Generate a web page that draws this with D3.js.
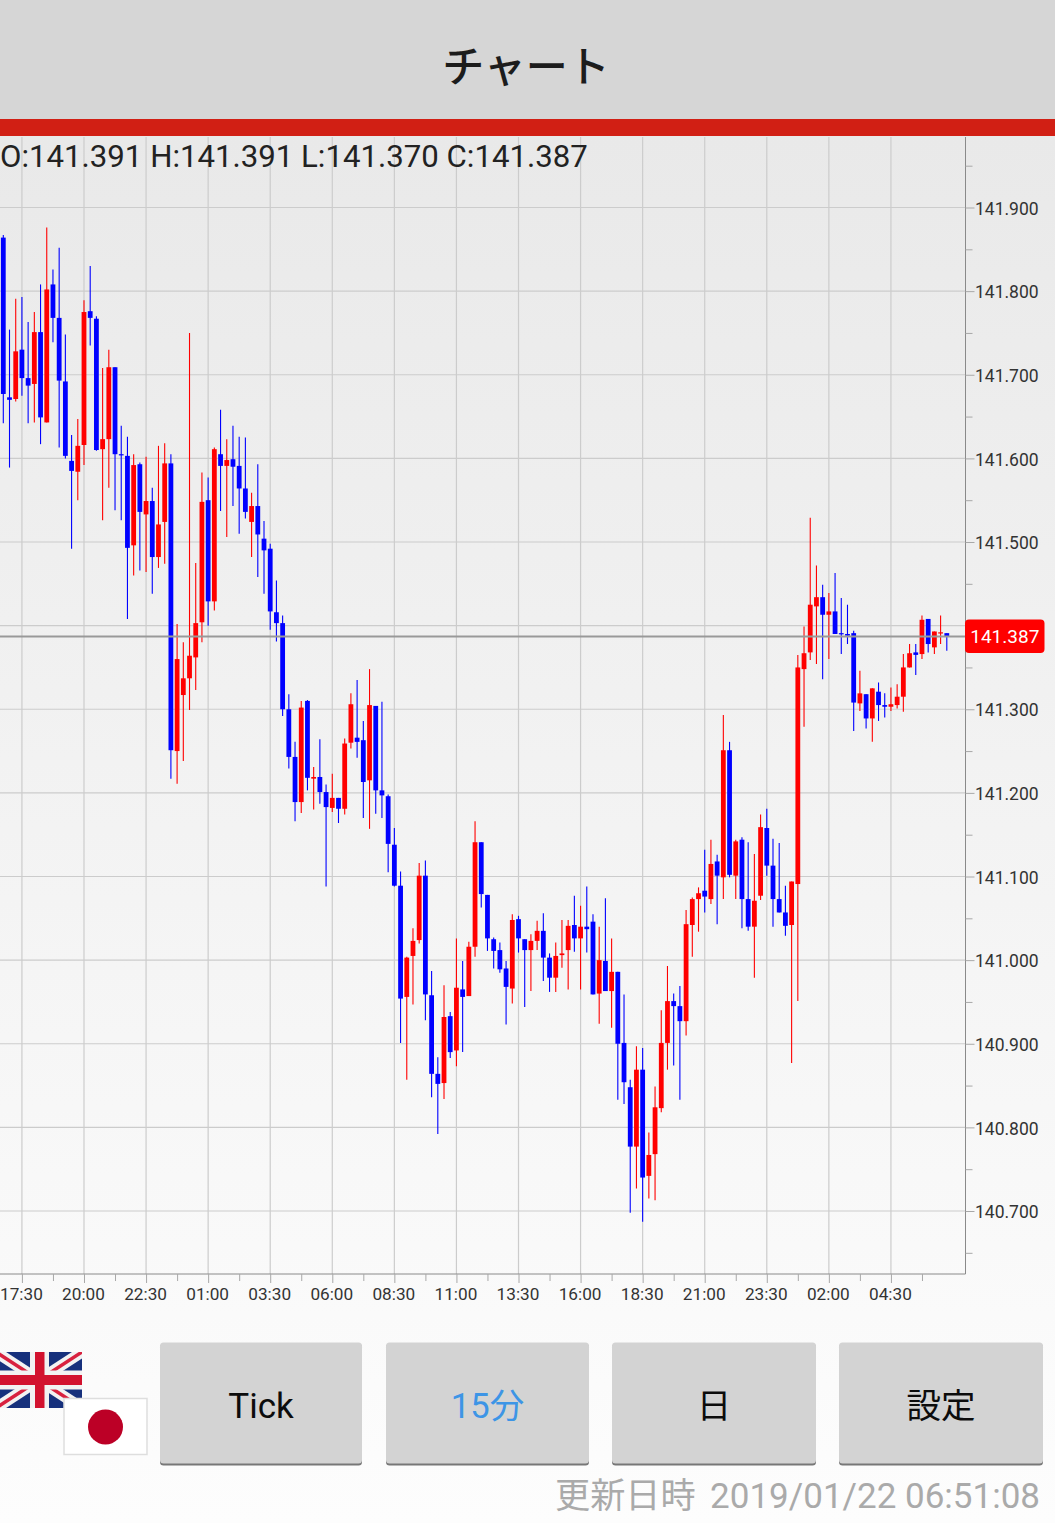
<!DOCTYPE html>
<html>
<head>
<meta charset="utf-8">
<script src="https://cdn.jsdelivr.net/npm/d3@7"></script>
<style>
    html, body { margin: 0; padding: 0; background: #fff; overflow: hidden; }
    svg { display: block; }
    text { font-family: Roboto, "Noto Sans CJK JP", sans-serif; }
    .cjk { font-family: "Noto Sans CJK JP", sans-serif; }
</style>
</head>
<body>
<div id="chart"></div>
<script>
// 15 minute candles
const opens = [
    141.864,141.673,141.671,141.730,141.696,141.689,141.751,141.643,141.808,141.768,
    141.692,141.597,141.584,141.616,141.776,141.767,141.611,141.623,141.709,141.605,
    141.603,141.496,141.593,141.533,141.549,141.482,141.524,141.594,141.250,141.317,
    141.337,141.362,141.404,141.550,141.429,141.605,141.591,141.599,141.591,141.564,
    141.524,141.543,141.504,141.492,141.416,141.403,141.300,141.243,141.189,141.310,
    141.217,141.219,141.201,141.182,141.194,141.181,141.260,141.266,141.263,141.215,
    141.304,141.203,141.196,141.138,141.089,140.956,141.005,141.024,141.101,140.958,
    140.864,140.853,140.933,140.892,140.965,140.957,141.016,141.141,141.078,141.025,
    141.012,140.990,140.966,141.049,141.025,141.012,141.023,141.035,141.003,140.979,
    141.006,141.012,141.042,141.026,141.040,141.046,140.960,140.999,140.963,140.986,
    140.901,140.848,140.777,140.869,140.742,140.768,140.823,140.901,140.951,140.945,
    140.927,141.042,141.073,141.083,141.073,141.118,141.099,141.251,141.101,141.144,
    141.073,141.040,141.077,141.158,141.113,141.073,141.057,141.042,141.091,141.348,
    141.368,141.423,141.434,141.413,141.417,141.391,141.390,141.391,141.307,141.318,
    141.289,141.321,141.305,141.303,141.305,141.315,141.350,141.368,141.366,141.408,
    141.374,141.391,141.391
];
const closes = [
    141.677,141.670,141.728,141.696,141.687,141.751,141.649,141.802,141.768,141.693,
    141.603,141.585,141.615,141.775,141.768,141.610,141.623,141.709,141.605,141.604,
    141.493,141.592,141.536,141.549,141.482,141.521,141.594,141.251,141.360,141.337,
    141.364,141.403,141.548,141.429,141.611,141.591,141.598,141.590,141.564,141.536,
    141.543,141.509,141.490,141.417,141.403,141.300,141.243,141.189,141.302,141.218,
    141.219,141.201,141.183,141.194,141.181,141.259,141.306,141.261,141.213,141.305,
    141.203,141.197,141.139,141.089,140.954,141.003,141.023,141.101,140.959,140.864,
    140.852,140.932,140.890,140.967,140.956,141.016,141.141,141.079,141.026,141.011,
    140.989,140.968,141.048,141.026,141.012,141.023,141.035,141.003,140.979,141.005,
    141.008,141.041,141.026,141.040,141.037,140.959,141.000,140.963,140.986,140.900,
    140.854,140.777,140.869,140.740,140.767,140.824,140.901,140.951,140.945,140.927,
    141.043,141.073,141.080,141.076,141.115,141.101,141.251,141.102,141.142,141.073,
    141.040,141.071,141.159,141.113,141.073,141.057,141.041,141.094,141.350,141.367,
    141.425,141.434,141.413,141.417,141.390,141.390,141.388,141.308,141.319,141.289,
    141.325,141.305,141.303,141.306,141.315,141.350,141.367,141.365,141.407,141.378,
    141.393,141.392,141.387
];
const highs = [
    141.867,141.754,141.791,141.793,141.763,141.775,141.808,141.876,141.826,141.852,
    141.748,141.628,141.647,141.789,141.830,141.770,141.708,141.730,141.709,141.639,
    141.626,141.605,141.595,141.602,141.565,141.615,141.618,141.605,141.402,141.380,
    141.750,141.475,141.583,141.577,141.613,141.658,141.623,141.639,141.626,141.625,
    141.559,141.593,141.525,141.498,141.454,141.412,141.318,141.261,141.310,141.311,
    141.231,141.264,141.210,141.223,141.194,141.265,141.319,141.335,141.286,141.348,
    141.304,141.309,141.198,141.158,141.106,141.004,141.038,141.116,141.119,140.987,
    140.884,140.970,140.938,141.026,140.999,141.022,141.166,141.141,141.078,141.027,
    141.021,140.999,141.055,141.053,141.025,141.031,141.047,141.056,141.008,141.021,
    141.048,141.048,141.077,141.065,141.088,141.055,141.040,141.074,141.026,140.986,
    140.959,140.857,140.897,140.895,140.794,140.849,140.940,140.993,140.960,140.969,
    141.060,141.075,141.087,141.132,141.144,141.126,141.293,141.261,141.144,141.147,
    141.141,141.127,141.174,141.181,141.145,141.140,141.089,141.094,141.365,141.399,
    141.529,141.472,141.449,141.439,141.463,141.433,141.425,141.394,141.346,141.318,
    141.325,141.332,141.319,141.326,141.330,141.366,141.378,141.378,141.412,141.408,
    141.393,141.412,141.391
];
const lows = [
    141.642,141.589,141.668,141.675,141.642,141.643,141.617,141.643,141.739,141.613,
    141.600,141.492,141.550,141.592,141.735,141.609,141.526,141.565,141.538,141.526,
    141.408,141.460,141.466,141.464,141.438,141.469,141.474,141.217,141.211,141.238,
    141.299,141.323,141.380,141.400,141.418,141.537,141.506,141.543,141.510,141.528,
    141.482,141.458,141.438,141.395,141.381,141.292,141.229,141.166,141.176,141.203,
    141.180,141.187,141.088,141.177,141.164,141.174,141.253,141.242,141.170,141.157,
    141.175,141.170,141.105,141.088,140.901,140.857,140.947,141.020,140.928,140.836,
    140.792,140.834,140.883,140.873,140.890,140.957,141.004,141.063,141.011,140.990,
    140.985,140.923,140.948,141.009,140.944,140.963,141.012,140.975,140.962,140.962,
    140.991,140.965,141.010,140.965,141.009,140.959,140.924,140.963,140.919,140.833,
    140.828,140.698,140.727,140.687,140.715,140.713,140.818,140.869,140.874,140.833,
    140.910,141.004,141.034,141.057,141.067,141.043,141.073,141.099,141.073,141.038,
    141.035,140.979,141.072,141.101,141.040,141.057,141.029,140.877,140.951,141.279,
    141.359,141.354,141.336,141.360,141.390,141.366,141.378,141.274,141.298,141.277,
    141.261,141.286,141.290,141.298,141.301,141.297,141.350,141.341,141.360,141.368,
    141.366,141.378,141.370
];

// candle index -> label on the time axis
const timeTicks = [3, 13, 23, 33, 43, 53, 63, 73, 83, 93, 103, 113, 123, 133, 143];
const timeLabels = ["17:30","20:00","22:30","01:00","03:30","06:00","08:30","11:00","13:30","16:00","18:30","21:00","23:30","02:00","04:30"];
const timeMinor = [8, 18, 28, 38, 48, 58, 68, 78, 88, 98, 108, 118, 128, 138, 148];

const priceTicks = [141.9, 141.8, 141.7, 141.6, 141.5, 141.4, 141.3, 141.2, 141.1, 141.0, 140.9, 140.8, 140.7];
const priceMinor = [141.95, 141.85, 141.75, 141.65, 141.55, 141.45, 141.35, 141.25, 141.15, 141.05, 140.95, 140.85, 140.75, 140.65];

const buttons = ["Tick", "15分", "日", "設定"];
const buttonLeft = [160, 386, 612, 839];
const buttonRight = [362, 589, 816, 1043];

const W = 1055, H = 1523;
const plot = { left: 0, right: 965.5, top: 137, bottom: 1274 };

const svg = d3.select("#chart").append("svg")
    .attr("width", W)
    .attr("height", H);

const defs = svg.append("defs");
const grad = defs.append("linearGradient")
    .attr("id", "bg")
    .attr("x1", 0).attr("x2", 0).attr("y1", 0).attr("y2", 1);
grad.append("stop").attr("offset", "0%").attr("stop-color", "#e9e9e9");
grad.append("stop").attr("offset", "100%").attr("stop-color", "#fdfdfd");

svg.append("rect")
    .attr("y", 136).attr("width", W).attr("height", H - 136)
    .attr("fill", "url(#bg)");

// header
svg.append("rect").attr("width", W).attr("height", 119).attr("fill", "#d6d6d6");
svg.append("rect").attr("y", 119).attr("width", W).attr("height", 17).attr("fill", "#d11f14");
svg.append("text")
    .attr("class", "cjk")
    .attr("x", 526).attr("y", 82)
    .attr("text-anchor", "middle")
    .style("font-size", "42px")
    .style("font-weight", "500")
    .style("fill", "#1c1c1c")
    .text("チャート");

const x = d3.scaleLinear().domain([0, 152]).range([3.3, 946.8]);
const y = d3.scaleLinear().domain([140.7, 141.9]).range([1211, 207.5]);

// grid
svg.append("g").selectAll("line")
    .data(priceTicks)
    .enter().append("line")
    .attr("x1", plot.left).attr("x2", plot.right)
    .attr("y1", d => y(d)).attr("y2", d => y(d))
    .attr("stroke", "#cccccc").attr("stroke-width", 1.2);
svg.append("g").selectAll("line")
    .data(timeTicks)
    .enter().append("line")
    .attr("x1", d => x(d)).attr("x2", d => x(d))
    .attr("y1", plot.top).attr("y2", plot.bottom)
    .attr("stroke", "#cccccc").attr("stroke-width", 1.2);

// candles
const candles = d3.range(opens.length).map(i => ({
    i, open: opens[i], close: closes[i], high: highs[i], low: lows[i]
}));
const colour = d => d.close > d.open ? "#ff0000" : "#0000ff";

const candle = svg.append("g").selectAll("g")
    .data(candles)
    .enter().append("g");
candle.append("line")
    .attr("x1", d => x(d.i)).attr("x2", d => x(d.i))
    .attr("y1", d => y(d.high)).attr("y2", d => y(d.low))
    .attr("stroke", colour).attr("stroke-width", 1.1);
candle.append("rect")
    .attr("x", d => x(d.i) - 2.4)
    .attr("width", 4.8)
    .attr("y", d => y(Math.max(d.open, d.close)))
    .attr("height", d => Math.max(1.2, Math.abs(y(d.open) - y(d.close))))
    .attr("fill", colour);

// current price line
const last = candles[candles.length - 1];
svg.append("line")
    .attr("x1", 0).attr("x2", plot.right)
    .attr("y1", y(last.close)).attr("y2", y(last.close))
    .attr("stroke", "#999").attr("stroke-width", 2);

// price axis
const yAxis = svg.append("g")
    .attr("transform", `translate(${plot.right},0)`)
    .call(d3.axisRight(y).tickValues(priceTicks).tickSize(9).tickPadding(0.5)
        .tickFormat(d => Math.abs(d - 141.4) < 1e-6 ? "" : d3.format(".3f")(d)));
yAxis.select(".domain").attr("d", `M0,${plot.top}V${plot.bottom}`).attr("stroke", "#8a8a8a");
yAxis.selectAll(".tick line").attr("stroke", "#a8a8a8");
yAxis.selectAll("text")
    .attr("dy", "0.38em")
    .style("font-family", "Roboto")
    .style("font-size", "17.5px")
    .style("fill", "#333");
svg.append("g")
    .attr("transform", `translate(${plot.right},0)`)
    .call(d3.axisRight(y).tickValues(priceMinor).tickSize(7).tickFormat(""))
    .call(g => g.select(".domain").remove())
    .selectAll(".tick line").attr("stroke", "#a8a8a8");

// time axis
const xAxis = svg.append("g")
    .attr("transform", `translate(0,${plot.bottom})`)
    .call(d3.axisBottom(x).tickValues(timeTicks).tickSize(9).tickPadding(5)
        .tickFormat((d, i) => timeLabels[i]));
xAxis.select(".domain").attr("d", `M0,0H${plot.right}`).attr("stroke", "#8a8a8a");
xAxis.selectAll(".tick line").attr("stroke", "#a8a8a8");
xAxis.selectAll("text")
    .attr("dx", -1)
    .style("font-family", "Roboto")
    .style("font-size", "17.2px")
    .style("fill", "#333");
svg.append("g")
    .attr("transform", `translate(0,${plot.bottom})`)
    .call(d3.axisBottom(x).tickValues(timeMinor).tickSize(7).tickFormat(""))
    .call(g => g.select(".domain").remove())
    .selectAll(".tick line").attr("stroke", "#a8a8a8");

// current price tag
svg.append("rect")
    .attr("x", 965).attr("y", y(last.close) - 17)
    .attr("width", 79.5).attr("height", 33.5)
    .attr("rx", 4)
    .attr("fill", "#ff0000");
svg.append("text")
    .attr("x", 1004.8).attr("y", y(last.close) + 6.5)
    .attr("text-anchor", "middle")
    .style("font-size", "19px")
    .style("fill", "#fff")
    .text(last.close.toFixed(3));

// OHLC readout
svg.append("text")
    .attr("x", 0).attr("y", 166.5)
    .style("font-size", "31.2px")
    .style("fill", "#222")
    .text(`O:${last.open.toFixed(3)} H:${last.high.toFixed(3)} L:${last.low.toFixed(3)} C:${last.close.toFixed(3)}`);

// flags
const uk = svg.append("g");
uk.append("clipPath").attr("id", "ukclip")
    .append("rect").attr("x", 0).attr("y", 1352).attr("width", 82).attr("height", 56);
const ukInner = uk.append("g").attr("clip-path", "url(#ukclip)");
ukInner.append("rect").attr("x", -4).attr("y", 1352).attr("width", 86).attr("height", 56).attr("fill", "#16307c");
[[-4, 1352, 82, 1408], [-4, 1408, 82, 1352]].forEach(c => {
    ukInner.append("line")
        .attr("x1", c[0]).attr("y1", c[1]).attr("x2", c[2]).attr("y2", c[3])
        .attr("stroke", "#f2f2f2").attr("stroke-width", 11);
    ukInner.append("line")
        .attr("x1", c[0]).attr("y1", c[1]).attr("x2", c[2]).attr("y2", c[3])
        .attr("stroke", "#d8213f").attr("stroke-width", 3.5);
});
ukInner.append("rect").attr("x", 30).attr("y", 1352).attr("width", 19).attr("height", 56).attr("fill", "#f2f2f2");
ukInner.append("rect").attr("x", -4).attr("y", 1370.5).attr("width", 86).attr("height", 19).attr("fill", "#f2f2f2");
ukInner.append("rect").attr("x", 35).attr("y", 1352).attr("width", 9.5).attr("height", 56).attr("fill", "#d2122e");
ukInner.append("rect").attr("x", -4).attr("y", 1375).attr("width", 86).attr("height", 10).attr("fill", "#d2122e");

svg.append("rect")
    .attr("x", 64).attr("y", 1398.5).attr("width", 83).attr("height", 56)
    .attr("fill", "#fff").attr("stroke", "#dedede").attr("stroke-width", 1.5);
svg.append("circle")
    .attr("cx", 105.5).attr("cy", 1427).attr("r", 17.5)
    .attr("fill", "#bc0026");

// buttons
const button = svg.append("g").selectAll("g")
    .data(buttons)
    .enter().append("g");
button.append("rect")
    .attr("x", (d, i) => buttonLeft[i])
    .attr("y", 1344)
    .attr("width", (d, i) => buttonRight[i] - buttonLeft[i])
    .attr("height", 121.5)
    .attr("rx", 3.5)
    .attr("fill", "#777");
button.append("rect")
    .attr("x", (d, i) => buttonLeft[i])
    .attr("y", 1342.5)
    .attr("width", (d, i) => buttonRight[i] - buttonLeft[i])
    .attr("height", 121)
    .attr("rx", 3.5)
    .attr("fill", "#d3d3d3");
button.append("text")
    .attr("x", (d, i) => (buttonLeft[i] + buttonRight[i]) / 2)
    .attr("y", 1417.5)
    .attr("text-anchor", "middle")
    .style("font-size", (d, i) => i === 0 ? "35px" : "34.5px")
    .style("fill", d => d === "15分" ? "#3d95e6" : "#0c0c0c")
    .text(d => d);

// update time
svg.append("text")
    .attr("class", "cjk")
    .attr("x", 555).attr("y", 1508)
    .style("font-size", "35.2px")
    .style("fill", "#aaa")
    .text("更新日時");
svg.append("text")
    .attr("x", 1040).attr("y", 1508)
    .attr("text-anchor", "end")
    .style("font-size", "35px")
    .style("fill", "#aaa")
    .text("2019/01/22 06:51:08");
</script>
</body>
</html>
